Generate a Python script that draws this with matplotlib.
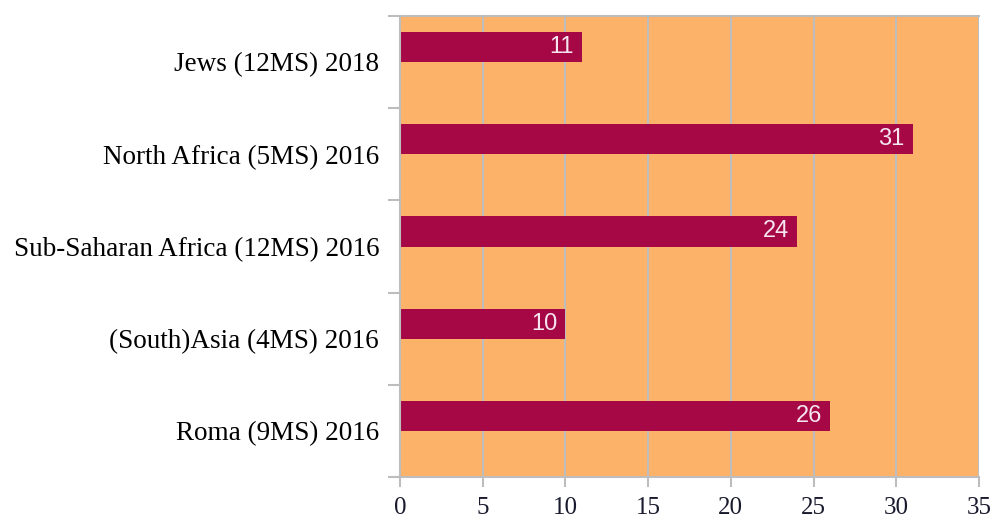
import matplotlib
matplotlib.use("Agg")
import matplotlib.pyplot as plt

categories = ["Jews (12MS) 2018", "North Africa (5MS) 2016", "Sub-Saharan Africa (12MS) 2016",
              "(South)Asia (4MS) 2016", "Roma (9MS) 2016"]
values = [11, 31, 24, 10, 26]
xticks = [0, 5, 10, 15, 20, 25, 30, 35]

BAR = "#A50844"
BG = "#FDB26A"
GRID = "#BDBDBD"

fig = plt.figure(figsize=(9.94, 5.21), dpi=100)
ax = fig.add_axes([400/994, 1-477/521, 579/994, 461/521])
ax.set_facecolor(BG)

n = len(categories)
ypos = list(range(n))[::-1]
bh = 30/92
bars = ax.barh([y + bh/2 for y in ypos], values, height=bh, color=BAR, zorder=3)
ax.set_ylim(-0.5, n-0.5)
ax.set_xlim(0, 35)
ax.set_xticks(xticks)
ax.set_xticklabels([str(t) for t in xticks], family="Liberation Serif", fontsize=18, color="#1a1a2e")
ax.set_yticks(ypos)
ax.set_yticklabels(categories, family="Liberation Serif", fontsize=19.5, color="black")
ax.tick_params(axis="y", length=0, pad=15)
ax.set_yticks([i-0.5 for i in range(n+1)], minor=True)
ax.tick_params(axis="y", which="minor", length=9, color=GRID, width=1.5, direction="out")
ax.tick_params(axis="x", length=7, color=GRID, width=1.5, direction="out", pad=7.5)
ax.xaxis.grid(True, color=GRID, linewidth=1.5, zorder=1)
ax.set_axisbelow(True)
ax.spines["right"].set_visible(False)
for s in ["left", "bottom", "top"]:
    ax.spines[s].set_color(GRID)
    ax.spines[s].set_linewidth(1.5)
ax.spines["left"].set_zorder(4)

for y, v in zip(ypos, values):
    ax.annotate(str(v), (v, y + bh/2), xytext=(-6, 0), textcoords="offset points",
                ha="right", va="center", color="#F5E6F0",
                fontsize=17, family="Liberation Sans", zorder=5)

fig.savefig("out.png", dpi=100)
